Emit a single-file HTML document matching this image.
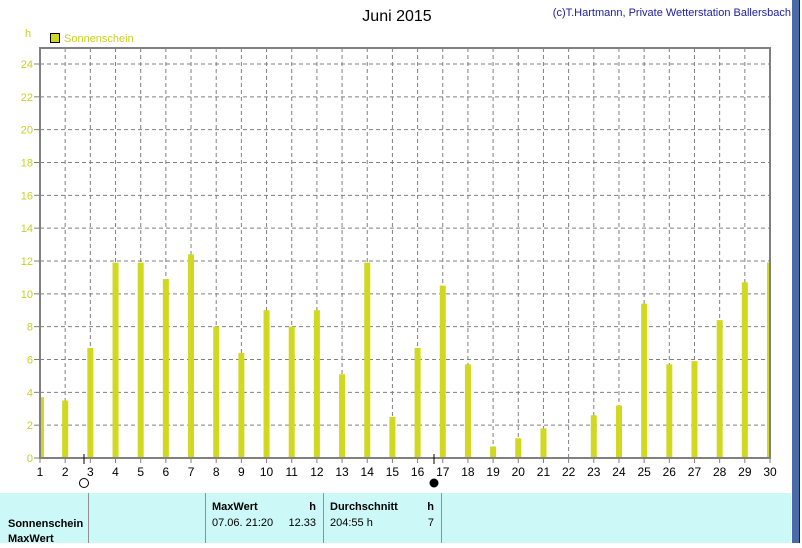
<!DOCTYPE html>
<html><head><meta charset="utf-8"><style>
body{margin:0;width:802px;height:543px;overflow:hidden;background:#fff;font-family:"Liberation Sans",sans-serif;}
</style></head><body>
<svg width="802" height="543" xmlns="http://www.w3.org/2000/svg">
<text x="397" y="21" font-size="16" text-anchor="middle">Juni 2015</text>
<text x="791" y="16" font-size="11" fill="#2020a0" text-anchor="end">(c)T.Hartmann, Private Wetterstation Ballersbach</text>
<text x="25" y="37" font-size="11" fill="#c8d020">h</text>
<rect x="50.5" y="33.5" width="9" height="9" fill="#d0d820" stroke="#000"/>
<text x="64" y="42" font-size="11" fill="#c8d020">Sonnenschein</text>
<g id="grid"></g>
<g id="bars"></g>
<rect x="40" y="48" width="730" height="410" fill="none" stroke="#808080" stroke-width="2"/>
<g id="axes"></g>
<line x1="84" y1="454" x2="84" y2="464" stroke="#000"/>
<circle cx="84" cy="483" r="4.5" fill="#fff" stroke="#000"/>
<line x1="434" y1="454" x2="434" y2="464" stroke="#000"/>
<circle cx="434" cy="483" r="4.5" fill="#000"/>
<rect x="0" y="493" width="791" height="50" fill="#ccf8f8"/>
<g stroke="#909090" stroke-width="1"><line x1="88.5" y1="493" x2="88.5" y2="543"/><line x1="205.5" y1="493" x2="205.5" y2="543"/><line x1="323.5" y1="493" x2="323.5" y2="543"/><line x1="441.5" y1="493" x2="441.5" y2="543"/></g>
<g font-size="11">
<text x="8" y="527" font-weight="bold">Sonnenschein</text>
<text x="8" y="542" font-weight="bold">MaxWert</text>
<text x="212" y="510" font-weight="bold">MaxWert</text>
<text x="316" y="510" font-weight="bold" text-anchor="end">h</text>
<text x="212" y="526">07.06.  21:20</text>
<text x="316" y="526" text-anchor="end">12.33</text>
<text x="330" y="510" font-weight="bold">Durchschnitt</text>
<text x="434" y="510" font-weight="bold" text-anchor="end">h</text>
<text x="330" y="526">204:55 h</text>
<text x="434" y="526" text-anchor="end">7</text>
</g>
<rect x="792" y="0" width="7" height="543" fill="#4a6aa8"/>
<line x1="799.5" y1="0" x2="799.5" y2="543" stroke="#102040"/>
</svg>
<script>
const days=[1,2,3,4,5,6,7,8,9,10,11,12,13,14,15,16,17,18,19,20,21,22,23,24,25,26,27,28,29,30];
const sunshine=[3.7,3.5,6.7,11.9,11.9,10.9,12.4,8.0,6.4,9.0,8.0,9.0,5.1,11.9,2.5,6.7,10.5,5.7,0.7,1.2,1.8,0.05,2.6,3.2,9.4,5.7,5.9,8.4,10.7,11.9];
const yTicks=[0,2,4,6,8,10,12,14,16,18,20,22,24];
const NS="http://www.w3.org/2000/svg";
const xs=d=>40+(d-1)*(730/29);
const ys=v=>458-v*(394/24);
function mk(t,a,p){const e=document.createElementNS(NS,t);for(const k in a)e.setAttribute(k,a[k]);p.appendChild(e);return e;}
const grid=document.getElementById('grid'),bars=document.getElementById('bars'),axes=document.getElementById('axes');
yTicks.forEach(v=>{
 if(v>0){const l=mk('line',{x1:40,x2:770,y1:ys(v),y2:ys(v),stroke:'#808080','stroke-dasharray':'4,3'},grid);
 
 }
 mk('line',{x1:34,x2:40,y1:ys(v),y2:ys(v),stroke:'#808080'},axes);
 const t=mk('text',{x:33,y:ys(v)+4,'font-size':11,fill:'#c8d020','text-anchor':'end'},axes);t.textContent=v;
 
 
});
days.forEach((d,i)=>{
 const x=xs(d);
 if(d>1&&d<30){const l=mk('line',{x1:x,x2:x,y1:48,y2:458,stroke:'#808080','stroke-dasharray':'4,3'},grid);
 
 }
 const b=mk('rect',{x:Math.max(41,x-3),y:ys(sunshine[i]),width:(d==1?3:(d==30?3:6)),height:458-ys(sunshine[i]),fill:'#d0d820'},bars);
 
 
 mk('line',{x1:x,x2:x,y1:458,y2:463,stroke:'#808080'},axes);
 const t=mk('text',{x:x,y:476,'font-size':12,'text-anchor':'middle'},axes);t.textContent=d;
 
 
});
</script>
</body></html>
